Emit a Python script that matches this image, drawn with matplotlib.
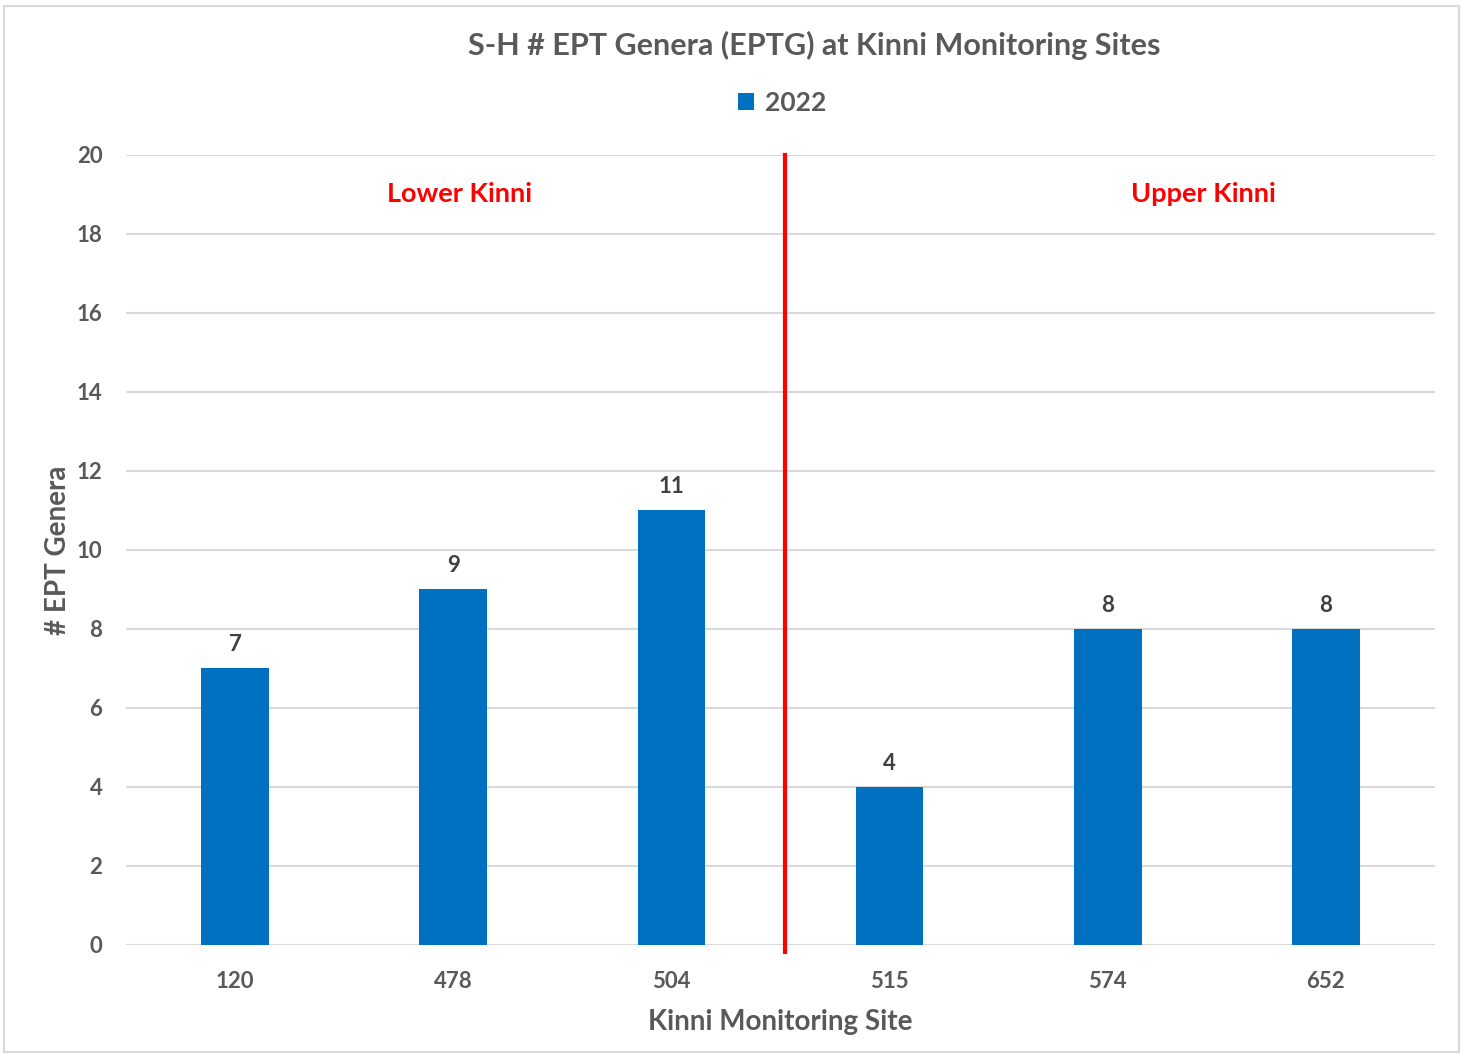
import matplotlib.pyplot as plt
from matplotlib.patches import Rectangle

# EPT genera counts per monitoring site, 2022
sites = ["120", "478", "504", "515", "574", "652"]
ept_genera = [7, 9, 11, 4, 8, 8]
y_ticks = [0, 2, 4, 6, 8, 10, 12, 14, 16, 18, 20]

gray = "#595959"
bar_blue = "#0070C0"
plt.rcParams["font.family"] = ["Lato", "DejaVu Sans"]
plt.rcParams["font.weight"] = "bold"

fig = plt.figure(figsize=(14.65, 10.57), dpi=100)
ax = fig.add_axes([0.086, 0.106, 0.8935, 0.7474])

x = list(range(len(sites)))
bars = ax.bar(x, ept_genera, width=0.31, color=bar_blue, label="2022", zorder=3)

# value labels above bars
for xi, v in zip(x, ept_genera):
    ax.text(xi, v + 0.33, str(v), ha="center", va="bottom", fontsize=16,
            fontweight="bold", color="#404040")

ax.set_xlim(-0.5, len(sites) - 0.5)
ax.set_ylim(0, 20)
ax.set_yticks(y_ticks)
ax.set_xticks(x)
ax.set_xticklabels(sites)
ax.tick_params(axis="both", length=0, labelsize=16, labelcolor=gray)
ax.tick_params(axis="y", pad=17)
ax.tick_params(axis="x", pad=19)
ax.grid(axis="y", color="#d9d9d9", linewidth=1.5, zorder=0)
for s in ax.spines.values():
    s.set_visible(False)

ax.set_xlabel("Kinni Monitoring Site", fontsize=20, color=gray, fontweight="bold", labelpad=12)
ax.set_ylabel("# EPT Genera", fontsize=20, color=gray, fontweight="bold", labelpad=4)

# divider between lower and upper reaches
ax.plot([2.52, 2.52], [-0.18, 20], color="#FF0000", linewidth=3.0, clip_on=False, zorder=4)
ax.text(1.03, 19.0, "Lower Kinni", ha="center", va="center", fontsize=19.5,
        fontweight="bold", color="#FF0000")
ax.text(4.44, 19.0, "Upper Kinni", ha="center", va="center", fontsize=19.5,
        fontweight="bold", color="#FF0000")

fig.text(0.556, 0.957, "S-H # EPT Genera (EPTG) at Kinni Monitoring Sites", ha="center",
         va="center", fontsize=22, fontweight="bold", color=gray)
fig.legend(handles=[bars], loc="center", bbox_to_anchor=(0.534, 0.903), frameon=False,
           fontsize=19, labelcolor=gray, handlelength=0.6, handleheight=0.6,
           handletextpad=0.4)

# chart border
fig.patches.append(Rectangle((0.003, 0.005), 0.993, 0.989, transform=fig.transFigure,
                             fill=False, edgecolor="#d9d9d9", linewidth=1.5))

fig.savefig("out.png", dpi=100)
